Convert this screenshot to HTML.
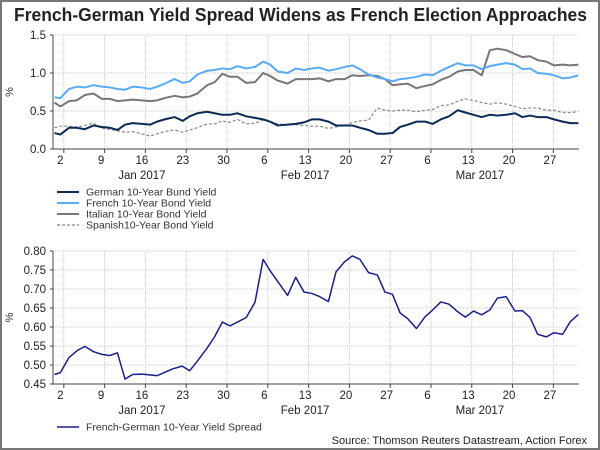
<!DOCTYPE html>
<html><head><meta charset="utf-8"><style>
html,body{margin:0;padding:0;background:#fff;}
svg{display:block;font-family:"Liberation Sans",Arial,sans-serif;}
</style></head><body>
<svg id="c" width="600" height="450" xmlns="http://www.w3.org/2000/svg">
<rect x="1" y="1" width="598" height="448" fill="#fff" stroke="#777" stroke-width="2"/>
<text x="14" y="21" font-size="18" font-weight="bold" fill="#222" textLength="573" lengthAdjust="spacingAndGlyphs">French-German Yield Spread Widens as French Election Approaches</text>
<text x="587" y="444" font-size="11" fill="#222" text-anchor="end">Source: Thomson Reuters Datastream, Action Forex</text>
</svg>
<script>
const tickDays=[1,8,15,22,29,36,43,50,57,64,71,78,85];
const tickLabels=["2","9","16","23","30","6","13","20","27","6","13","20","27"];
const monthLabels=["Jan 2017","Feb 2017","Mar 2017"];
const monthDays=[15,43,73];
const topDays=[0,1,2.5,3.8,5.2,6.7,8.1,9.5,10.8,12.1,13.4,15,16.4,17.6,18.9,20.6,22,23.2,24.5,26.2,27.5,28.8,30.1,31.4,32.9,34.4,35.8,37,38.3,40,41.4,42.8,44.2,45.5,47,48.3,49.8,51.1,52.4,53.9,55.4,56.7,58,59.3,60.6,62.1,63.6,64.9,66.3,67.7,69.2,70.5,71.9,73.3,74.7,76,77.5,79,80.3,81.6,82.9,84.4,85.7,87.2,88.5,89.9];
const german=[0.21,0.19,0.28,0.28,0.26,0.31,0.29,0.28,0.25,0.32,0.34,0.33,0.32,0.36,0.39,0.42,0.37,0.43,0.47,0.49,0.47,0.45,0.45,0.47,0.43,0.41,0.39,0.36,0.31,0.32,0.33,0.35,0.39,0.39,0.36,0.31,0.31,0.31,0.28,0.25,0.2,0.2,0.21,0.29,0.32,0.36,0.36,0.33,0.39,0.43,0.51,0.48,0.45,0.42,0.45,0.44,0.45,0.47,0.42,0.44,0.42,0.42,0.39,0.36,0.34,0.34];
const french=[0.68,0.67,0.79,0.82,0.81,0.84,0.82,0.81,0.79,0.78,0.82,0.81,0.79,0.82,0.86,0.92,0.87,0.89,0.98,1.03,1.04,1.06,1.05,1.09,1.06,1.08,1.15,1.11,1.02,1.0,1.06,1.04,1.06,1.07,1.03,1.05,1.08,1.1,1.05,0.98,0.94,0.92,0.89,0.92,0.93,0.95,0.98,0.97,1.03,1.08,1.13,1.1,1.1,1.05,1.09,1.11,1.13,1.11,1.05,1.06,1.0,0.99,0.97,0.93,0.94,0.97];
const italian=[0.61,0.56,0.63,0.64,0.71,0.73,0.66,0.66,0.63,0.64,0.65,0.64,0.63,0.64,0.67,0.7,0.68,0.69,0.73,0.84,0.88,0.99,0.95,0.95,0.87,0.88,1.0,0.96,0.9,0.86,0.92,0.92,0.92,0.93,0.89,0.92,0.92,0.97,0.96,0.97,0.96,0.92,0.84,0.85,0.86,0.8,0.83,0.85,0.91,0.95,1.02,1.04,1.04,0.97,1.3,1.32,1.3,1.25,1.21,1.22,1.17,1.15,1.1,1.11,1.1,1.11];
const spanish=[0.28,0.3,0.3,0.29,0.31,0.34,0.27,0.26,0.24,0.22,0.23,0.2,0.17,0.2,0.23,0.25,0.22,0.25,0.28,0.33,0.33,0.37,0.35,0.39,0.33,0.34,0.38,0.36,0.33,0.32,0.32,0.31,0.3,0.3,0.27,0.29,0.31,0.35,0.37,0.38,0.54,0.51,0.5,0.51,0.51,0.49,0.51,0.52,0.57,0.58,0.63,0.66,0.64,0.61,0.59,0.61,0.59,0.56,0.53,0.54,0.54,0.51,0.51,0.48,0.48,0.49];
const topTicks=[0,0.5,1.0,1.5];
const topTickLabels=["0.0","0.5","1.0","1.5"];
const botDays=[0,1,2.5,3.9,5.2,6.7,8.1,9.5,10.8,12.1,13.4,15,17.6,20.3,21.9,23.2,24.5,26.2,27.5,28.8,30.1,31.4,32.9,34.4,35.8,37,38.3,40,41.4,42.8,44.2,45.5,47,48.3,49.8,51.1,52.4,53.9,55.4,56.7,58,59.3,60.6,62.1,63.6,64.9,66.3,67.7,69.2,70.5,71.9,73.3,74.7,76,77.5,79,80.3,81.6,82.9,84.4,85.7,87.2,88.5,89.9];
const spread=[0.475,0.48,0.52,0.538,0.549,0.535,0.528,0.525,0.532,0.463,0.475,0.476,0.472,0.49,0.497,0.485,0.51,0.545,0.575,0.613,0.603,0.613,0.625,0.665,0.778,0.748,0.72,0.683,0.731,0.692,0.688,0.68,0.667,0.745,0.772,0.787,0.778,0.743,0.737,0.692,0.686,0.637,0.622,0.596,0.627,0.645,0.666,0.66,0.64,0.626,0.642,0.632,0.645,0.676,0.68,0.642,0.643,0.625,0.581,0.574,0.585,0.581,0.614,0.633];
const botTicks=[0.45,0.5,0.55,0.6,0.65,0.7,0.75,0.8];
const botTickLabels=["0.45","0.50","0.55","0.60","0.65","0.70","0.75","0.80"];

const svg=document.getElementById('c');
const NS='http://www.w3.org/2000/svg';
function mk(tag,attrs,parent){const e=document.createElementNS(NS,tag);for(const k in attrs)e.setAttribute(k,attrs[k]);(parent||svg).appendChild(e);return e;}
const L=53,R=579;
const xs=d=>L+1.5+d*(R-L-1.5)/90;

function panel(top,bottom,vmin,vmax,ticks,tlabels,name){
  const g=mk('g',{});
  
  
  const ys=v=>bottom-(v-vmin)/(vmax-vmin)*(bottom-top);
  ticks.forEach((t,i)=>{
    if(i>0){const gl=mk('line',{x1:L,x2:R,y1:ys(t),y2:ys(t),stroke:'#ccc','stroke-dasharray':'1,1'},g);
      }
    const tl=mk('text',{x:L-7,y:ys(t)+4,'font-size':11.5,'text-anchor':'end',fill:'#222'},g);tl.textContent=tlabels[i];
    
    mk('line',{x1:L-3,x2:L,y1:ys(t),y2:ys(t),stroke:'#444'},g);
  });
  tickDays.forEach((d,i)=>{
    const gx=xs(d)+3.5;
    const gl=mk('line',{x1:gx,x2:gx,y1:top,y2:bottom,stroke:'#ccc','stroke-dasharray':'1,1'},g);
    
    mk('line',{x1:gx,x2:gx,y1:bottom,y2:bottom+4,stroke:'#444'},g);
    const tl=mk('text',{x:xs(d),y:bottom+15,'font-size':11.5,'text-anchor':'middle',fill:'#222'},g);tl.textContent=tickLabels[i];
    
  });
  monthLabels.forEach((m,i)=>{
    const tl=mk('text',{x:xs(monthDays[i]),y:bottom+30,'font-size':11.5,'text-anchor':'middle',fill:'#222'},g);tl.textContent=m;
    
  });
  mk('line',{x1:L,x2:L,y1:top,y2:bottom,stroke:'#444'},g);
  mk('line',{x1:L,x2:R,y1:bottom,y2:bottom,stroke:'#444'},g);
  const yt=mk('text',{x:0,y:0,'font-size':11,fill:'#333','text-anchor':'middle',transform:`translate(13,${(top+bottom)/2}) rotate(-90)`},g);yt.textContent='%';
  
  return ys;
}
function line(days,vals,ys,color,w,dash,name){
  const p=mk('polyline',{points:days.map((d,i)=>xs(d)+','+ys(vals[i])).join(' '),fill:'none',stroke:color,'stroke-width':w,'stroke-linejoin':'round'});
  if(dash)p.setAttribute('stroke-dasharray',dash);
  
  
}
function legend(y,color,w,dash,label,name){
  const g=mk('g',{});
  
  
  const l=mk('line',{x1:57,x2:79,y1:y,y2:y,stroke:color,'stroke-width':w},g);
  if(dash)l.setAttribute('stroke-dasharray',dash);
  const t=mk('text',{x:86,y:y+3.5,'font-size':10.5,fill:'#333'},g);t.textContent=label;
}
const ysT=panel(35,149,0,1.5,topTicks,topTickLabels,'top-chart');
line(topDays,spanish,ysT,'#888',1.2,'3,2','spanish-yield-line');
line(topDays,italian,ysT,'#777',2,null,'italian-yield-line');
line(topDays,french,ysT,'#5aaaf5',2,null,'french-yield-line');
line(topDays,german,ysT,'#0b2a55',2,null,'german-yield-line');
legend(192,'#0b2a55',2,null,'German 10-Year Bund Yield','legend-german');
legend(203,'#5aaaf5',2,null,'French 10-Year Bond Yield','legend-french');
legend(214,'#777',2,null,'Italian 10-Year Bond Yield','legend-italian');
legend(225,'#888',1.2,'3,2','Spanish10-Year Bond Yield','legend-spanish');
const ysB=panel(251,384,0.45,0.8,botTicks,botTickLabels,'bottom-chart');
line(botDays,spread,ysB,'#1a1f8a',1.5,null,'spread-line');
legend(427,'#1a1f8a',1.5,null,'French-German 10-Year Yield Spread','legend-spread');
</script>
</body></html>
